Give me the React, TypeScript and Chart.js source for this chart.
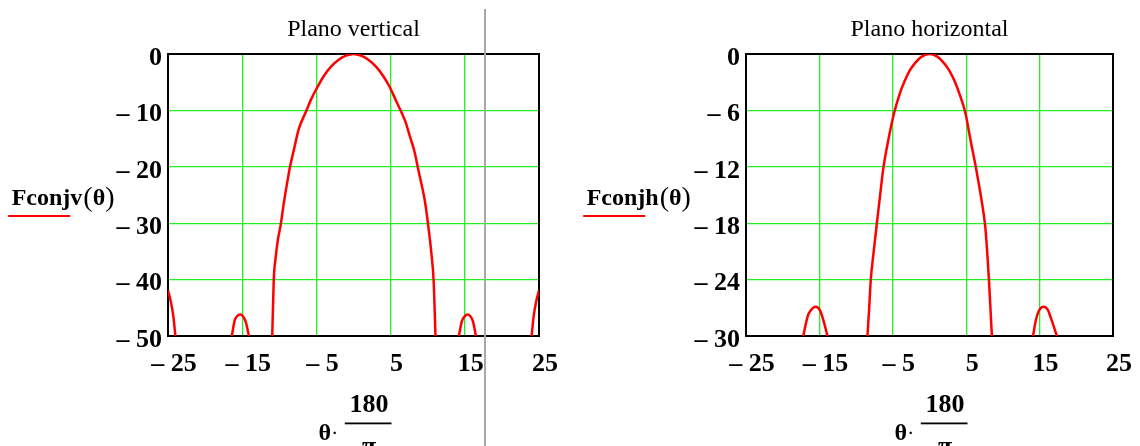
import React, { useEffect, useRef } from "react";
import { Chart, registerables } from "chart.js";

Chart.register(...registerables);

// ---- data ----
const thetaV = [
  -25, -24.6, -24.3, -24.0, -20,
  -16.4, -16.0, -15.6, -15.25, -14.9, -14.5, -14.1, -12.5,
  -10.95, -10.75, -10.5, -10.2, -9.8, -9.4, -9.0, -8.6, -8.0, -7.4, -6.4, -5.7, -5.0, -4.0, -3.0, -2.0, -1.0, 0,
  1.0, 2.0, 3.0, 4.0, 4.9, 5.7, 6.45, 7.0, 7.6, 8.2, 8.7, 9.2, 9.6, 10.05, 10.5, 10.8, 11.05, 12.5,
  14.2, 14.6, 15.0, 15.35, 15.7, 16.1, 16.5, 20,
  24.0, 24.3, 24.6, 25,
];
const fconjV = [
  -41.9, -44.0, -46.3, -50, null,
  -50, -47.2, -46.4, -46.2, -46.5, -47.6, -50, null,
  -50, -40.1, -36.2, -33.0, -30.2, -26.5, -23.3, -20.3, -16.8, -13.4, -10.2, -8.0, -6.2, -3.9, -2.2, -1.0, -0.3, 0,
  -0.3, -1.0, -2.2, -3.9, -5.9, -8.2, -10.3, -12.0, -14.6, -17.2, -20.3, -23.3, -25.9, -30.2, -35.4, -40.2, -50, null,
  -50, -47.4, -46.5, -46.2, -46.4, -47.4, -50, null,
  -50, -46.3, -44.0, -41.9,
];

const thetaH = [
  -17.2, -16.6, -16.2, -15.5, -14.9, -14.5, -13.9, -11,
  -8.45, -8.2, -8.0, -7.6, -7.17, -6.65, -6.3, -5.65, -4.8, -4.0, -3.4, -2.7, -2.0, -1.0, 0,
  1.0, 2.0, 2.7, 3.4, 4.2, 4.9, 5.6, 6.35, 7.1, 7.6, 7.9, 8.1, 8.3, 8.5, 11,
  14.1, 14.5, 14.8, 15.5, 16.1, 16.5, 17.35,
];
const fconjH = [
  -30, -27.9, -27.3, -26.9, -27.3, -28.2, -30, null,
  -30, -26.8, -24.0, -21.0, -18.0, -14.5, -12.2, -9.3, -6.2, -4.1, -2.9, -1.77, -1.0, -0.25, 0,
  -0.25, -1.0, -1.77, -2.85, -4.5, -6.3, -9.2, -12.2, -15.6, -18.4, -21.5, -24.05, -27.0, -30, null,
  -30, -28.3, -27.5, -26.9, -27.2, -28.0, -30,
];

const xTickValues = [-25, -15, -5, 5, 15, 25];
const yTickValuesV = [0, -10, -20, -30, -40, -50];
const yTickValuesH = [0, -6, -12, -18, -24, -30];

const titleV = "Plano vertical";
const titleH = "Plano horizontal";
const nameV = "Fconjv";
const nameH = "Fconjh";
const argLabel = "θ";
const xTitleNum = "180";
const xTitleDen = "π";

const SERIF = "'Liberation Serif', 'Times New Roman', serif";
const GRID = "#22f022";

const fmt = (v: number) => (v < 0 ? "\u2013 " + Math.abs(v) : String(v));

const framePlugin = {
  id: "frame",
  beforeDatasetsDraw(chart: any) {
    const { ctx, chartArea: a } = chart;
    ctx.save();
    ctx.strokeStyle = "#000";
    ctx.lineWidth = 2;
    ctx.strokeRect(a.left, a.top, a.right - a.left, a.bottom - a.top);
    ctx.restore();
  },
};

function labelsPlugin(title: string, name: string, nameX: number) {
  return {
    id: "labels",
    afterDraw(chart: any) {
      const { ctx, chartArea: a } = chart;
      const cx = (a.left + a.right) / 2;
      ctx.save();
      ctx.fillStyle = "#000";
      ctx.textBaseline = "alphabetic";
      // title
      ctx.textAlign = "center";
      ctx.font = `24px ${SERIF}`;
      ctx.fillText(title, cx, 36);
      // y name
      ctx.textAlign = "left";
      let x = nameX;
      const base = 205;
      ctx.font = `bold 24px ${SERIF}`;
      ctx.fillText(name, x, base);
      x += ctx.measureText(name).width + 1;
      ctx.font = `28px ${SERIF}`;
      ctx.fillText("(", x, base + 1);
      x += ctx.measureText("(").width;
      ctx.font = `bold 24px ${SERIF}`;
      ctx.fillText(argLabel, x, base);
      x += ctx.measureText(argLabel).width;
      ctx.font = `28px ${SERIF}`;
      ctx.fillText(")", x, base + 1);
      ctx.strokeStyle = "#ff0000";
      ctx.lineWidth = 2;
      ctx.beginPath();
      ctx.moveTo(nameX - 3.5, 216);
      ctx.lineTo(nameX + 58.5, 216);
      ctx.stroke();
      // x title: θ · 180/π
      ctx.font = `bold 24px ${SERIF}`;
      ctx.fillText(argLabel, cx - 35, 440);
      const tw = ctx.measureText(argLabel).width;
      ctx.font = `22px ${SERIF}`;
      ctx.fillText("\u00b7", cx - 35 + tw, 440);
      ctx.textAlign = "center";
      ctx.font = `bold 26px ${SERIF}`;
      ctx.fillText(xTitleNum, cx + 15.5, 411.5);
      ctx.fillText(xTitleDen, cx + 15.5, 454);
      ctx.fillRect(cx - 8.7, 422.5, 46.7, 1.8);
      ctx.restore();
    },
  };
}

type PanelProps = {
  left: number;
  theta: number[];
  values: (number | null)[];
  yTicks: number[];
  areaLeft: number;
  padRight: number;
  title: string;
  name: string;
  nameX: number;
};

function Panel(p: PanelProps) {
  const ref = useRef<HTMLCanvasElement>(null);
  useEffect(() => {
    if (!ref.current) return;
    const tickFont = { family: SERIF, size: 26, weight: "bold" as const };
    const chart = new Chart(ref.current, {
      type: "line",
      data: {
        datasets: [
          {
            data: p.theta.map((t, i) => ({ x: t, y: p.values[i] })) as any,
            borderColor: "#ff0000",
            borderWidth: 2.5,
            pointRadius: 0,
            cubicInterpolationMode: "monotone",
            spanGaps: false,
          },
        ],
      },
      options: {
        responsive: false,
        maintainAspectRatio: false,
        animation: false,
        layout: { padding: { left: 0, right: p.padRight, top: 54, bottom: 0 } },
        plugins: {
          legend: { display: false },
          tooltip: { enabled: false },
          title: { display: false },
        },
        scales: {
          x: {
            type: "linear",
            min: xTickValues[0],
            max: xTickValues[xTickValues.length - 1],
            afterFit: (s: any) => {
              s.height = 110;
            },
            afterBuildTicks: (s: any) => {
              s.ticks = xTickValues.map((v) => ({ value: v }));
            },
            grid: { color: GRID, lineWidth: 1.3, drawTicks: false },
            border: { display: false },
            ticks: {
              font: tickFont,
              color: "#000",
              padding: 13,
              labelOffset: 6,
              autoSkip: false,
              maxRotation: 0,
              callback: (v: any) => fmt(Number(v)),
            },
          },
          y: {
            type: "linear",
            min: p.yTicks[p.yTicks.length - 1],
            max: p.yTicks[0],
            afterFit: (s: any) => {
              s.width = p.areaLeft;
            },
            afterBuildTicks: (s: any) => {
              s.ticks = p.yTicks.map((v) => ({ value: v }));
            },
            grid: { color: GRID, lineWidth: 1.3, drawTicks: false },
            border: { display: false },
            ticks: {
              font: tickFont,
              color: "#000",
              padding: 6,
              labelOffset: 4,
              autoSkip: false,
              callback: (v: any) => fmt(Number(v)),
            },
          },
        },
      },
      plugins: [framePlugin, labelsPlugin(p.title, p.name, p.nameX)],
    });
    return () => chart.destroy();
  }, []);
  return (
    <canvas
      ref={ref}
      width={570}
      height={446}
      style={{ position: "absolute", left: p.left, top: 0, width: 570, height: 446 }}
    />
  );
}

export default function App() {
  return (
    <div
      style={{
        position: "absolute",
        left: 0,
        top: 0,
        width: 1140,
        height: 446,
        background: "#fff",
        overflow: "hidden",
      }}
    >
      <Panel
        left={0}
        theta={thetaV}
        values={fconjV}
        yTicks={yTickValuesV}
        areaLeft={168}
        padRight={31}
        title={titleV}
        name={nameV}
        nameX={11.7}
      />
      <Panel
        left={570}
        theta={thetaH}
        values={fconjH}
        yTicks={yTickValuesH}
        areaLeft={176}
        padRight={27}
        title={titleH}
        name={nameH}
        nameX={16.7}
      />
      <div
        style={{
          position: "absolute",
          left: 484,
          top: 9,
          width: 1.5,
          height: 437,
          background: "#a8a8a8",
        }}
      />
    </div>
  );
}
